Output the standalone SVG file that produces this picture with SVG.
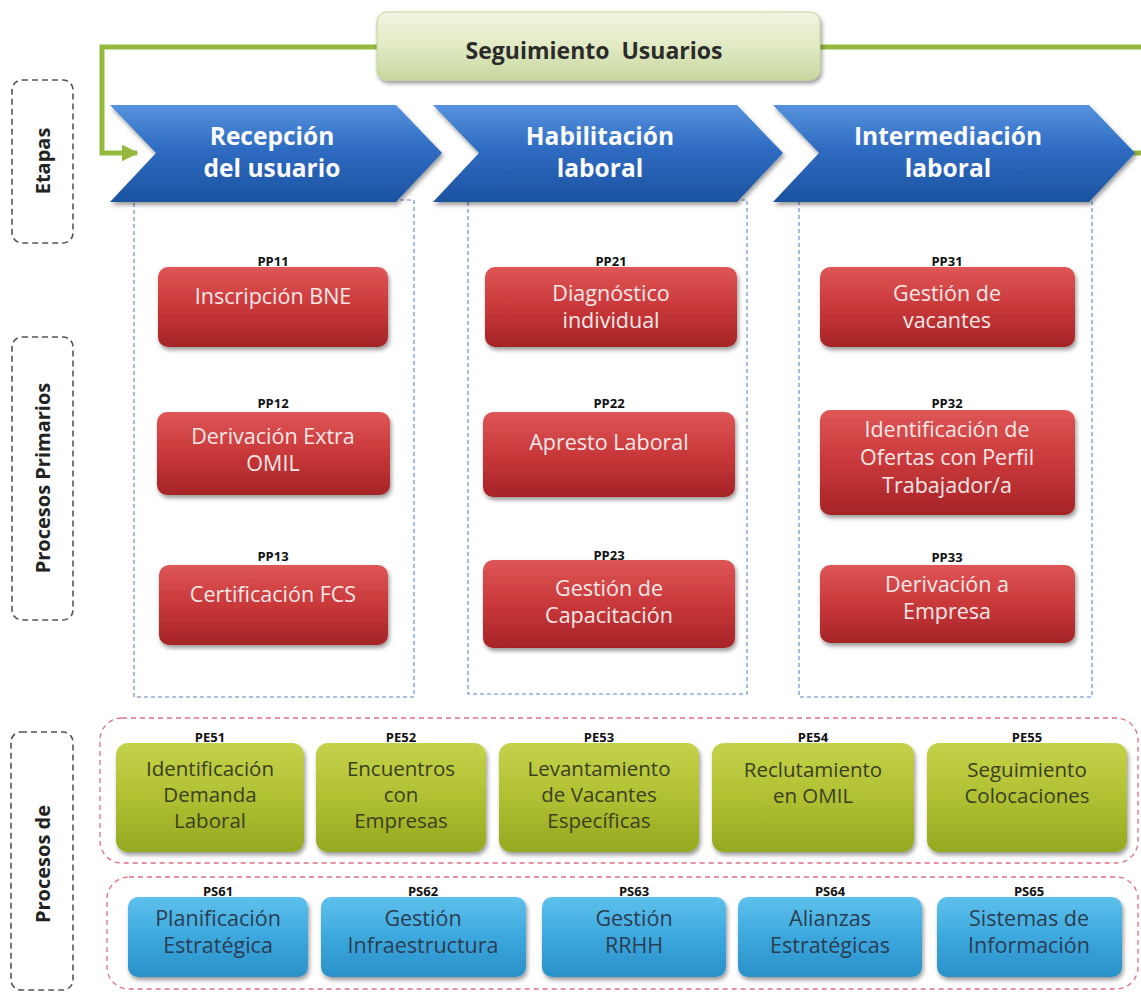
<svg xmlns="http://www.w3.org/2000/svg" width="1141" height="995" viewBox="0 0 1141 995">
<defs>
  <linearGradient id="gBlue" x1="0" y1="0" x2="0" y2="1">
    <stop offset="0" stop-color="#5592dc"/>
    <stop offset="0.45" stop-color="#2f6cc2"/>
    <stop offset="1" stop-color="#1c52a0"/>
  </linearGradient>
  <linearGradient id="gRed" x1="0" y1="0" x2="0" y2="1">
    <stop offset="0" stop-color="#de5656"/>
    <stop offset="0.5" stop-color="#c9383a"/>
    <stop offset="1" stop-color="#a52426"/>
  </linearGradient>
  <linearGradient id="gGreen" x1="0" y1="0" x2="0" y2="1">
    <stop offset="0" stop-color="#c4d24a"/>
    <stop offset="0.5" stop-color="#b0c032"/>
    <stop offset="1" stop-color="#96a822"/>
  </linearGradient>
  <linearGradient id="gCyan" x1="0" y1="0" x2="0" y2="1">
    <stop offset="0" stop-color="#5ec1ec"/>
    <stop offset="0.5" stop-color="#3ca8de"/>
    <stop offset="1" stop-color="#2990c8"/>
  </linearGradient>
  <linearGradient id="gTitle" x1="0" y1="0" x2="0" y2="1">
    <stop offset="0" stop-color="#f1f5e2"/>
    <stop offset="0.5" stop-color="#e1eac4"/>
    <stop offset="1" stop-color="#c7d79f"/>
  </linearGradient>
  <filter id="sh" x="-10%" y="-10%" width="125%" height="135%">
    <feDropShadow dx="1.5" dy="3" stdDeviation="2" flood-color="#000" flood-opacity="0.4"/>
  </filter>
  <marker id="arr" viewBox="0 0 10 10" refX="9" refY="5" markerWidth="3.4" markerHeight="3.4" orient="auto" markerUnits="strokeWidth">
    <path d="M0,0 L10,5 L0,10 z" fill="#93b83c"/>
  </marker>
</defs>
<style>
  text{font-family:"Open Sans","Liberation Sans",sans-serif;text-anchor:middle}
  .side{fill:none;stroke:#555;stroke-width:1.6;stroke-dasharray:6 4}
  .sidet{font-weight:bold;font-size:20px;fill:#222}
  .col{fill:none;stroke:#5a86c5;stroke-width:1.1;stroke-dasharray:4 3}
  .grp{fill:none;stroke:#e0707e;stroke-width:1.3;stroke-dasharray:5 4}
  .chev{fill:url(#gBlue);filter:url(#sh)}
  .chevt{font-weight:bold;font-size:24.5px;fill:#fbfbff}
  .pp{fill:url(#gRed);filter:url(#sh)}
  .ppt{font-size:21.5px;fill:#fbe8e8}
  .code{font-weight:bold;font-size:13px;fill:#111}
  .pe{fill:url(#gGreen);filter:url(#sh)}
  .pet{font-size:20.5px;fill:#3a4020}
  .ps{fill:url(#gCyan);filter:url(#sh)}
  .pst{font-size:21.5px;fill:#2b3d52}
  .conn{fill:none;stroke:#93b83c;stroke-width:5}
  .title{fill:url(#gTitle);stroke:#c2d196;stroke-width:1;filter:url(#sh)}
  .titlet{font-weight:bold;font-size:23px;fill:#2b2b2b}
</style>

<rect width="1141" height="995" fill="#ffffff"/>

<!-- side labels -->
<g id="lbl-etapas">
  <rect class="side" x="12" y="80" width="61" height="163" rx="10"/>
  <text class="sidet" transform="translate(43,161) rotate(-90)" dy="0.35em">Etapas</text>
</g>
<g id="lbl-primarios">
  <rect class="side" x="12" y="337" width="61" height="283" rx="10"/>
  <text class="sidet" transform="translate(43,478) rotate(-90)" dy="0.35em">Procesos Primarios</text>
</g>
<g id="lbl-procesosde">
  <rect class="side" x="11" y="732" width="62" height="258" rx="10"/>
  <text class="sidet" transform="translate(43,864) rotate(-90)" dy="0.35em">Procesos de</text>
</g>

<!-- column frames -->
<g id="columns">
  <rect class="col" x="134" y="200" width="280" height="497"/>
  <rect class="col" x="468" y="200" width="279" height="494"/>
  <rect class="col" x="799" y="200" width="293" height="497"/>
</g>

<!-- group frames -->
<g id="frames">
  <rect class="grp" x="100" y="718" width="1038" height="145" rx="22"/>
  <rect class="grp" x="107" y="877" width="1031" height="112" rx="22"/>
</g>

<!-- connectors -->
<g id="connectors">
  <path class="conn" d="M377,47 H102 V153 H137" marker-end="url(#arr)"/>
  <path class="conn" d="M820,47 H1141"/>
  <path class="conn" d="M1133,153 H1141"/>
</g>

<!-- title -->
<g id="seguimiento">
  <rect class="title" x="377" y="12" width="443" height="68" rx="10"/>
  <text class="titlet" x="594" y="59" xml:space="preserve">Seguimiento  Usuarios</text>
</g>

<!-- chevrons -->
<g id="etapa1">
  <path class="chev" d="M110,105 H396 L442,153 L396,202 H110 L156,153 Z"/>
  <text class="chevt" x="272" y="145">Recepción</text>
  <text class="chevt" x="272" y="177">del usuario</text>
</g>
<g id="etapa2">
  <path class="chev" d="M433,105 H737 L783,153 L737,202 H433 L479,153 Z"/>
  <text class="chevt" x="600" y="145">Habilitación</text>
  <text class="chevt" x="600" y="177">laboral</text>
</g>
<g id="etapa3">
  <path class="chev" d="M773,105 H1089 L1135,153 L1089,202 H773 L819,153 Z"/>
  <text class="chevt" x="948" y="145">Intermediación</text>
  <text class="chevt" x="948" y="177">laboral</text>
</g>

<!-- primary processes -->
<g id="PP11">
  <rect class="pp" x="158" y="267" width="230" height="80" rx="10"/>
  <text class="code" x="273" y="266">PP11</text>
  <text class="ppt" x="273" y="304">Inscripción BNE</text>
</g>
<g id="PP12">
  <rect class="pp" x="157" y="412" width="233" height="83" rx="10"/>
  <text class="code" x="273" y="408">PP12</text>
  <text class="ppt" x="273" y="444">Derivación Extra</text>
  <text class="ppt" x="273" y="471">OMIL</text>
</g>
<g id="PP13">
  <rect class="pp" x="159" y="565" width="229" height="80" rx="10"/>
  <text class="code" x="273" y="561">PP13</text>
  <text class="ppt" x="273" y="602">Certificación FCS</text>
</g>
<g id="PP21">
  <rect class="pp" x="485" y="267" width="252" height="80" rx="10"/>
  <text class="code" x="611" y="266">PP21</text>
  <text class="ppt" x="611" y="301">Diagnóstico</text>
  <text class="ppt" x="611" y="328">individual</text>
</g>
<g id="PP22">
  <rect class="pp" x="483" y="412" width="252" height="85" rx="10"/>
  <text class="code" x="609" y="408">PP22</text>
  <text class="ppt" x="609" y="450">Apresto Laboral</text>
</g>
<g id="PP23">
  <rect class="pp" x="483" y="560" width="252" height="88" rx="10"/>
  <text class="code" x="609" y="560">PP23</text>
  <text class="ppt" x="609" y="596">Gestión de</text>
  <text class="ppt" x="609" y="623">Capacitación</text>
</g>
<g id="PP31">
  <rect class="pp" x="820" y="267" width="255" height="80" rx="10"/>
  <text class="code" x="947" y="266">PP31</text>
  <text class="ppt" x="947" y="301">Gestión de</text>
  <text class="ppt" x="947" y="328">vacantes</text>
</g>
<g id="PP32">
  <rect class="pp" x="820" y="410" width="255" height="105" rx="10"/>
  <text class="code" x="947" y="408">PP32</text>
  <text class="ppt" x="947" y="437">Identificación de</text>
  <text class="ppt" x="947" y="465">Ofertas con Perfil</text>
  <text class="ppt" x="947" y="493">Trabajador/a</text>
</g>
<g id="PP33">
  <rect class="pp" x="820" y="565" width="255" height="78" rx="10"/>
  <text class="code" x="947" y="562">PP33</text>
  <text class="ppt" x="947" y="592">Derivación a</text>
  <text class="ppt" x="947" y="619">Empresa</text>
</g>

<!-- PE row -->
<g id="PE51">
  <rect class="pe" x="116" y="743" width="188" height="109" rx="12"/>
  <text class="code" x="210" y="742">PE51</text>
  <text class="pet" x="210" y="776">Identificación</text>
  <text class="pet" x="210" y="802">Demanda</text>
  <text class="pet" x="210" y="828">Laboral</text>
</g>
<g id="PE52">
  <rect class="pe" x="316" y="743" width="170" height="109" rx="12"/>
  <text class="code" x="401" y="742">PE52</text>
  <text class="pet" x="401" y="776">Encuentros</text>
  <text class="pet" x="401" y="802">con</text>
  <text class="pet" x="401" y="828">Empresas</text>
</g>
<g id="PE53">
  <rect class="pe" x="499" y="743" width="200" height="109" rx="12"/>
  <text class="code" x="599" y="742">PE53</text>
  <text class="pet" x="599" y="776">Levantamiento</text>
  <text class="pet" x="599" y="802">de Vacantes</text>
  <text class="pet" x="599" y="828">Específicas</text>
</g>
<g id="PE54">
  <rect class="pe" x="712" y="743" width="202" height="109" rx="12"/>
  <text class="code" x="813" y="742">PE54</text>
  <text class="pet" x="813" y="777">Reclutamiento</text>
  <text class="pet" x="813" y="803">en OMIL</text>
</g>
<g id="PE55">
  <rect class="pe" x="927" y="743" width="200" height="109" rx="12"/>
  <text class="code" x="1027" y="742">PE55</text>
  <text class="pet" x="1027" y="777">Seguimiento</text>
  <text class="pet" x="1027" y="803">Colocaciones</text>
</g>

<!-- PS row -->
<g id="PS61">
  <rect class="ps" x="128" y="897" width="180" height="80" rx="10"/>
  <text class="code" x="218" y="896">PS61</text>
  <text class="pst" x="218" y="926">Planificación</text>
  <text class="pst" x="218" y="953">Estratégica</text>
</g>
<g id="PS62">
  <rect class="ps" x="321" y="897" width="205" height="80" rx="10"/>
  <text class="code" x="423" y="896">PS62</text>
  <text class="pst" x="423" y="926">Gestión</text>
  <text class="pst" x="423" y="953">Infraestructura</text>
</g>
<g id="PS63">
  <rect class="ps" x="542" y="897" width="184" height="80" rx="10"/>
  <text class="code" x="634" y="896">PS63</text>
  <text class="pst" x="634" y="926">Gestión</text>
  <text class="pst" x="634" y="953">RRHH</text>
</g>
<g id="PS64">
  <rect class="ps" x="738" y="897" width="184" height="80" rx="10"/>
  <text class="code" x="830" y="896">PS64</text>
  <text class="pst" x="830" y="926">Alianzas</text>
  <text class="pst" x="830" y="953">Estratégicas</text>
</g>
<g id="PS65">
  <rect class="ps" x="937" y="897" width="185" height="80" rx="10"/>
  <text class="code" x="1029" y="896">PS65</text>
  <text class="pst" x="1029" y="926">Sistemas de</text>
  <text class="pst" x="1029" y="953">Información</text>
</g>
</svg>
